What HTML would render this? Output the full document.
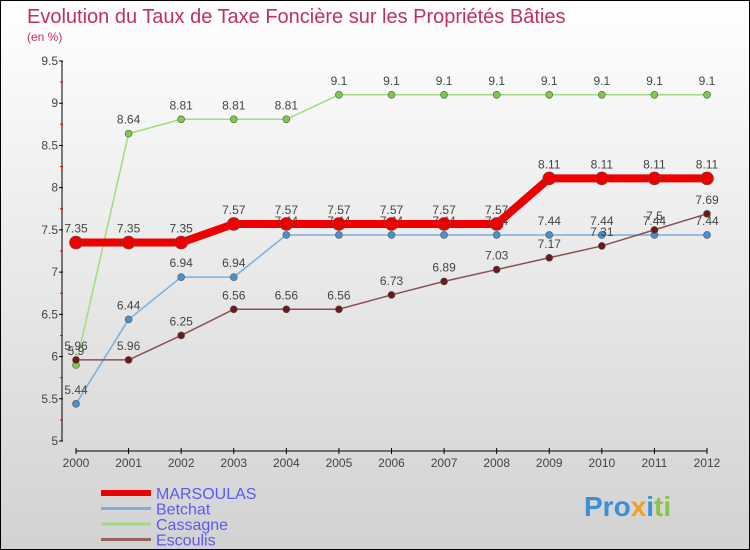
<!DOCTYPE html>
<html><head><meta charset="utf-8"><style>
body{margin:0}
#c{width:750px;height:550px;position:relative;box-sizing:border-box;border:1px solid #000;background:linear-gradient(#fff,#d2d2d2);font-family:"Liberation Sans",sans-serif;overflow:hidden}
svg{position:absolute;left:0;top:0}
</style></head><body>
<div id="c">
<svg id="s" width="750" height="550">
<text x="26" y="22" font-size="20" fill="#c0305f">Evolution du Taux de Taxe Foncière sur les Propriétés Bâties</text>
<text x="26" y="40" font-size="12" fill="#c0305f">(en %)</text>
<g><text x="583" y="515" font-size="28" font-weight="bold" fill="#3a8fd8">Pro<tspan fill="#f0a020">x</tspan>i<tspan fill="#8bc34a">ti</tspan></text></g>
</svg>
</div>
<script>
const years=["2000","2001","2002","2003","2004","2005","2006","2007","2008","2009","2010","2011","2012"];
const marsoulas=[7.35,7.35,7.35,7.57,7.57,7.57,7.57,7.57,7.57,8.11,8.11,8.11,8.11];
const betchat=[5.44,6.44,6.94,6.94,7.44,7.44,7.44,7.44,7.44,7.44,7.44,7.44,7.44];
const cassagne=[5.9,8.64,8.81,8.81,8.81,9.1,9.1,9.1,9.1,9.1,9.1,9.1,9.1];
const escoulis=[5.96,5.96,6.25,6.56,6.56,6.56,6.73,6.89,7.03,7.17,7.31,7.5,7.69];
const yTicks=[5,5.5,6,6.5,7,7.5,8,8.5,9,9.5];
const yLabels=["5","5.5","6","6.5","7","7.5","8","8.5","9","9.5"];
const svg=document.getElementById('s');const NS="http://www.w3.org/2000/svg";
const X=i=>75+i*(631/(years.length-1));
const Y=v=>440-(v-5)*(380/4.5);
function mk(t,a,p){const e=document.createElementNS(NS,t);for(const k in a)e.setAttribute(k,a[k]);(p||svg).appendChild(e);return e;}
let ax=mk('line',{x1:61,y1:Y(9.5),x2:61,y2:Y(5),stroke:'#000'});


yTicks.forEach((v,i)=>{mk('line',{x1:58,x2:62,y1:Y(v),y2:Y(v),stroke:'#000'});
 if(i<yTicks.length-1){mk('line',{x1:59,x2:62,y1:Y(v+0.25),y2:Y(v+0.25),stroke:'#e00'});}
 const t=mk('text',{x:57,y:Y(v)+4,'font-size':12,fill:'#444','text-anchor':'end'});t.textContent=yLabels[i];
 
 });
let xa=mk('line',{x1:75,y1:450,x2:706,y2:450,stroke:'#000'});


years.forEach((y,i)=>{mk('line',{x1:X(i),x2:X(i),y1:447,y2:453,stroke:'#000'});
 const t=mk('text',{x:X(i),y:466,'font-size':12,fill:'#444','text-anchor':'middle'});t.textContent=y;
 
 });
function series(name,data,color,w,r,dot){
 const g=mk('g',{});
 
 
 mk('polyline',{points:data.map((v,i)=>X(i)+','+Y(v)).join(' '),fill:'none',stroke:color,'stroke-width':w,'stroke-linejoin':'round'},g);
 data.forEach((v,i)=>{const c=mk('circle',{cx:X(i),cy:Y(v),r:r,fill:dot,stroke:'#555','stroke-width':0.6},g);
  
  
  const t=mk('text',{x:X(i),y:Y(v)-10,'font-size':12,fill:'#444','text-anchor':'middle'},g);t.textContent=String(v);
  
  });
}
series('cassagne',cassagne,'#9fdc80',1.5,3.5,'#7ccc40');
series('betchat',betchat,'#7aaedc',1.5,3.5,'#4a90d0');
series('escoulis',escoulis,'#8a5050',1.5,3.5,'#6a1a1a');
series('marsoulas',marsoulas,'#ee0000',8,6.5,'#ee0000');
const legNames=["MARSOULAS","Betchat","Cassagne","Escoulis"];
const legCols=["#ee0000","#7aaedc","#9fdc80","#9a6060"];
const legW=[6,3,3,3];
legNames.forEach((n,i)=>{const y=492+i*15.5;
 const g=mk('g',{});
 
 
 mk('line',{x1:100,x2:150,y1:y,y2:y,stroke:legCols[i],'stroke-width':legW[i]},g);
 const t=mk('text',{x:155,y:y+6,'font-size':16,fill:'#5a5af0'},g);t.textContent=n;});
</script>
</body></html>
